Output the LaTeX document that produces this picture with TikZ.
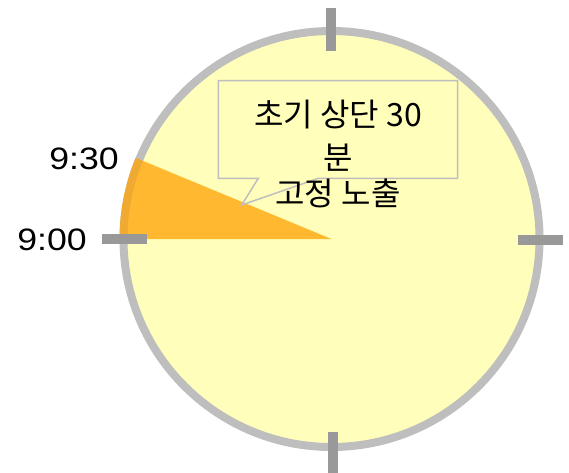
\documentclass[tikz,border=0pt]{standalone}
\usepackage{fontspec}
\newfontfamily\labelfont[FakeStretch=1.15]{Liberation Sans}
\newfontfamily\kofont{Noto Sans CJK KR}
\definecolor{ringgray}{RGB}{190,190,190}
\definecolor{tickgray}{RGB}{153,153,153}
\definecolor{faceyellow}{RGB}{255,255,187}
\definecolor{wedgeorange}{RGB}{255,165,10}
\tikzset{
  tickmark/.style={draw=tickgray, line width=10pt, line cap=butt},
  timelabel/.style={font=\labelfont\fontsize{31}{31}\selectfont, inner sep=0pt, text=black},
  kolabel/.style={font=\kofont\fontsize{32}{32}\selectfont, inner sep=0pt, text=black},
}
\begin{document}
\begin{tikzpicture}[x=1pt,y=-1pt]
\useasboundingbox (0,0) rectangle (569,472);
\coordinate (c) at (331.5,239);
% clock face
\draw[ringgray, fill=faceyellow, line width=8pt] (c) circle[radius=208];
% wedge
\fill[wedgeorange, fill opacity=0.78] (c) -- ([shift={(180:212)}]c) arc[start angle=180, end angle=202.5, radius=212] -- cycle;
% ticks
\coordinate (t1) at (330.5,8);   \coordinate (t2) at (330.5,51);
\coordinate (b1) at (332.5,432); \coordinate (b2) at (332.5,476);
\coordinate (l1) at (102,239);   \coordinate (l2) at (147,239);
\coordinate (r1) at (518,239.5); \coordinate (r2) at (563,239.5);
\draw[tickmark] (t1) -- (t2);
\draw[tickmark] (b1) -- (b2);
\draw[tickmark] (l1) -- (l2);
\draw[tickmark] (r1) -- (r2);
% callout
\coordinate (p1) at (218.3,80.7);
\coordinate (p2) at (457.7,80.7);
\coordinate (p3) at (457.7,178.3);
\coordinate (p4) at (318.3,178.3);
\coordinate (tip) at (241.7,205);
\coordinate (p5) at (258.3,178.3);
\coordinate (p6) at (218.3,178.3);
\draw[ringgray, line width=1.5pt, line join=miter] (p1) -- (p2) -- (p3) -- (p4) -- (tip) -- (p5) -- (p6) -- cycle;
% texts
\node[timelabel] (l930) at (84,158.5) {9:30};
\node[timelabel] (l900) at (52,240) {9:00};
\node[kolabel] (k1) at (338,115) {초기 상단 30};
\node[kolabel] (k2) at (338,158) {분};
\node[kolabel] (k3) at (338,193) {고정 노출};
\end{tikzpicture}
\end{document}
